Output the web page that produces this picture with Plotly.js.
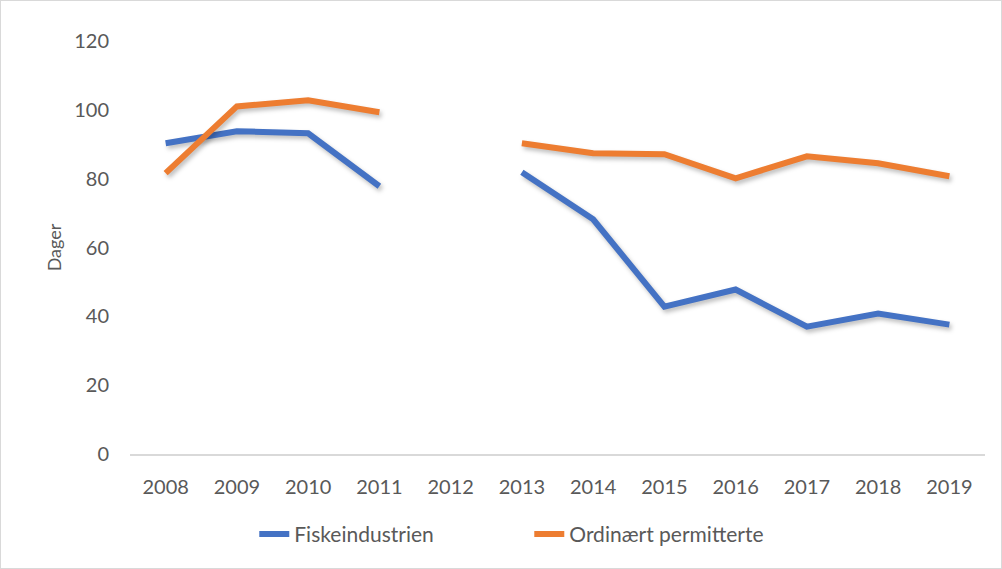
<!DOCTYPE html>
<html>
<head>
<meta charset="utf-8">
<script src="https://cdn.plot.ly/plotly-3.0.1.min.js"></script>
<style>
  html, body { margin: 0; padding: 0; background: #fff; }
  #chart { width: 1000px; height: 567px; border: 1px solid #d9d9d9; }
  .scatterlayer path.js-line { filter: drop-shadow(2px 3px 2px rgba(0,0,0,0.25)); }
</style>
</head>
<body>
<div id="chart"></div>
<script>
const years = ['2008','2009','2010','2011','2012','2013','2014','2015','2016','2017','2018','2019'];
const fiskeindustrien = [90.3, 93.8, 93.2, 77.8, null, 81.9, 68.2, 42.8, 47.8, 37.0, 40.8, 37.6];
const ordinaertPermitterte = [81.6, 101.0, 102.8, 99.3, null, 90.3, 87.4, 87.1, 80.1, 86.5, 84.5, 80.7];
const yTicks = [0, 20, 40, 60, 80, 100, 120];

const fontFam = 'Lato, "Open Sans", sans-serif';
const traces = [
  { x: years, y: fiskeindustrien, name: 'Fiskeindustrien', type: 'scatter', mode: 'lines',
    connectgaps: false, line: { color: '#4472C4', width: 6 } },
  { x: years, y: ordinaertPermitterte, name: 'Ordinært permitterte', type: 'scatter', mode: 'lines',
    connectgaps: false, line: { color: '#ED7D31', width: 6 } }
];
const layout = {
  width: 1000, height: 567,
  margin: { l: 129, r: 16, t: 40, b: 114 },
  paper_bgcolor: '#fff', plot_bgcolor: '#fff',
  font: { family: fontFam, size: 20, color: '#595959' },
  showlegend: true,
  legend: { orientation: 'h', x: 0.467, xanchor: 'center', y: -0.145, yanchor: 'top',
            font: { size: 21, color: '#595959' }, entrywidth: 230, entrywidthmode: 'pixels' },
  xaxis: { type: 'category', categoryorder: 'array', categoryarray: years, range: [-0.5, 11.5],
           showgrid: false, zeroline: false, showline: true, linecolor: '#d9d9d9', linewidth: 1.5,
           ticks: 'outside', ticklen: 14, tickcolor: 'rgba(0,0,0,0)',
           tickfont: { size: 20, color: '#595959' } },
  yaxis: { range: [0, 120], tickvals: yTicks, ticktext: yTicks.map(String),
           showgrid: false, zeroline: false, showline: false,
           ticks: 'outside', ticklen: 16, tickcolor: 'rgba(0,0,0,0)',
           tickfont: { size: 20, color: '#595959' },
           title: { text: 'Dager', font: { size: 18, color: '#595959' }, standoff: 7 } }
};
Plotly.newPlot('chart', traces, layout, { displayModeBar: false, staticPlot: true });
</script>
</body>
</html>
